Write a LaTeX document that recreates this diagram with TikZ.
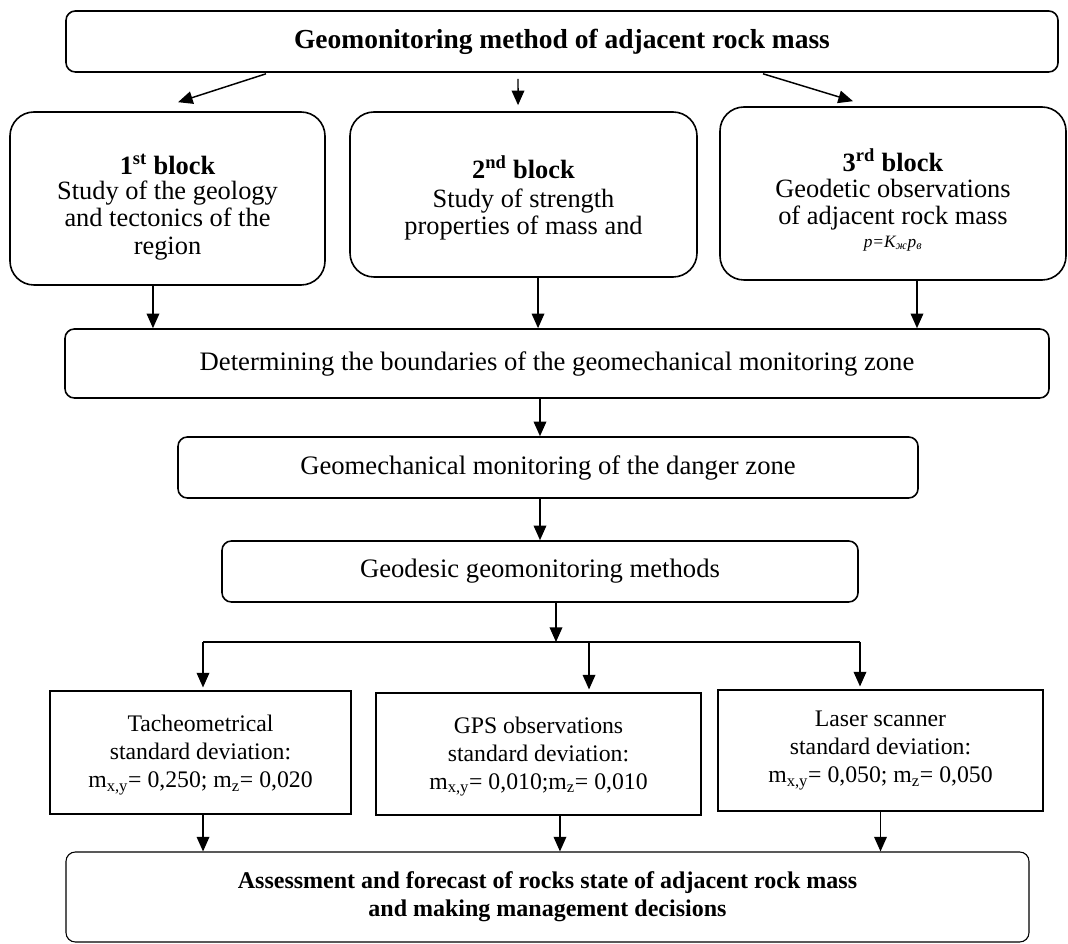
\documentclass[tikz,border=0pt]{standalone}
\usepackage{fontspec}
\setmainfont{Liberation Serif}
\usepackage{tikz}
\usetikzlibrary{arrows.meta, positioning, calc}

\newcommand{\padtop}[1]{\rule{0pt}{#1}}

\begin{document}
\begin{tikzpicture}[
    x=0.75pt, y=-0.75pt,
    every node/.style={inner sep=0pt, align=center},
    headbox/.style={rectangle, draw, line width=1.2pt, rounded corners=7pt, font=\fontsize{20.6}{22}\selectfont\bfseries},
    block/.style={rectangle, draw, line width=1.2pt, rounded corners=18pt, font=\fontsize{19.8}{20.4}\selectfont},
    stage/.style={rectangle, draw, line width=1.2pt, rounded corners=7pt, font=\fontsize{20}{22}\selectfont},
    method/.style={rectangle, draw, line width=1.3pt, font=\fontsize{17.8}{21}\selectfont},
    resbox/.style={rectangle, draw, line width=0.8pt, rounded corners=7pt, font=\fontsize{18}{21}\selectfont\bfseries},
    arrow/.style={-{Triangle[length=11pt, width=9.5pt]}, line width=1.1pt}
]
\useasboundingbox (0,0) rectangle (1068,944);

% top level
\node[headbox, minimum width=744pt, minimum height=45.75pt] (title) at (562,41.5) {Geomonitoring method of adjacent rock mass};

% the three blocks
\node[block, minimum width=236.25pt, minimum height=129.75pt] (blk1) at (167.5,198.5)
    {\padtop{28pt}\textbf{1\textsuperscript{st} block}\\[-1.5pt]Study of the geology\\and tectonics of the\\region};
\node[block, minimum width=260.25pt, minimum height=123.75pt] (blk2) at (523.5,194.5)
    {\padtop{22pt}\textbf{2\textsuperscript{nd} block}\\[1pt]Study of strength\\properties of mass and};
\node[block, minimum width=259.5pt, minimum height=129.75pt] (blk3) at (893,193.5)
    {\padtop{27pt}\textbf{3\textsuperscript{rd} block}\\[-1.5pt]Geodetic observations\\of adjacent rock mass\\[-3pt]{\fontsize{13}{14}\selectfont\itshape p=K\textsubscript{ж}p\textsubscript{в}}};

% monitoring chain
\node[stage, minimum width=738pt, minimum height=51.75pt] (zone) at (557,363.5) {Determining the boundaries of the geomechanical monitoring zone};
\node[stage, minimum width=555pt, minimum height=45.75pt] (danger) at (548,467.5) {Geomechanical monitoring of the danger zone};
\node[stage, minimum width=477pt, minimum height=45.75pt] (geodesic) at (540,571.5) {Geodesic geomonitoring methods};

% methods
\node[method, minimum width=225.75pt, minimum height=92.25pt] (tach) at (200.5,752.5)
    {\padtop{16pt}Tacheometrical\\standard deviation:\\m\textsubscript{x,y}= 0,250; m\textsubscript{z}= 0,020};
\node[method, minimum width=243.75pt, minimum height=91.5pt] (gps) at (538.5,754)
    {\padtop{16pt}GPS observations\\standard deviation:\\m\textsubscript{x,y}= 0,010;m\textsubscript{z}= 0,010};
\node[method, minimum width=243.75pt, minimum height=90.75pt] (laser) at (880.5,750.5)
    {Laser scanner\\standard deviation:\\m\textsubscript{x,y}= 0,050; m\textsubscript{z}= 0,050};

% result
\node[resbox, minimum width=722.25pt, minimum height=67.5pt] (assess) at (547.5,897)
    {Assessment and forecast of rocks state of adjacent rock mass\\and making management decisions};

% bus line
\coordinate (busL) at (203,642);
\coordinate (busR) at (860,642);

% arrows
\draw[arrow] ([xshift=-222pt,yshift=-0.75pt]title.south) -- ([xshift=7.9pt,yshift=6.75pt]blk1.north);
\draw[arrow] ([xshift=-33pt,yshift=-4.5pt]title.south) -- ([xshift=-4.1pt,yshift=4.5pt]blk2.north);
\draw[arrow] ([xshift=150.75pt,yshift=-0.75pt]title.south) -- ([xshift=-30pt,yshift=3.75pt]blk3.north);

\foreach \n/\s in {blk1/-10.9pt, blk2/10.9pt, blk3/18pt}
    \draw[arrow] ([xshift=\s]\n.south) -- ([xshift=\s]\n.south |- zone.north);
\draw[arrow] ([xshift=-12.75pt]zone.south) -- ([xshift=-12.75pt]zone.south |- danger.north);
\draw[arrow] ([xshift=-6pt]danger.south) -- ([xshift=-6pt]danger.south |- geodesic.north);
\draw[arrow] ([xshift=12pt]geodesic.south) -- ([xshift=12pt]geodesic.south |- busL);

\draw[line width=1.1pt] (busL) -- (busR);
\draw[arrow] (busL) -- ([yshift=2pt]busL |- tach.north);
\draw[arrow] ([xshift=37.9pt]gps.north |- busL) -- ([xshift=37.9pt,yshift=2pt]gps.north);
\draw[arrow] (busR) -- ([yshift=2pt]busR |- laser.north);

\foreach \n/\s in {tach/1.9pt, gps/16.1pt, laser/0pt}
    \draw[arrow] ([xshift=\s]\n.south) -- ([xshift=\s]\n.south |- assess.north);

\end{tikzpicture}
\end{document}
